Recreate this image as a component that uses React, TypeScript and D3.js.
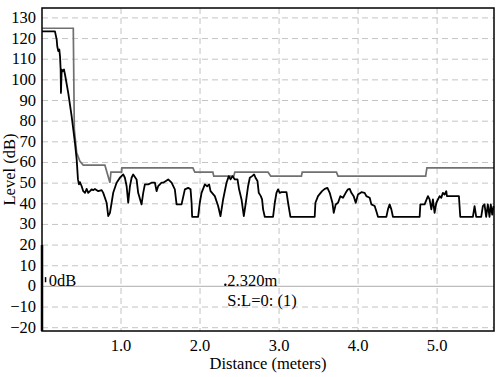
import * as d3 from 'd3'

const WIDTH = 500
const HEIGHT = 377
const MARGIN = { top: 8, right: 6, bottom: 46, left: 42 }

// Measured level trace (distance in meters, level in dB)
const levelDistance = [
  0.0, 0.164, 0.186, 0.193, 0.206, 0.219, 0.228, 0.236, 0.24, 0.249, 0.262, 0.278, 0.291, 0.332,
  0.375, 0.417, 0.439, 0.455, 0.468, 0.48, 0.502, 0.522, 0.544, 0.565, 0.585, 0.607, 0.628, 0.649,
  0.67, 0.712, 0.755, 0.775, 0.818, 0.838, 0.86, 0.881, 0.901, 0.944, 0.986, 1.028, 1.049, 1.071,
  1.091, 1.113, 1.134, 1.154, 1.197, 1.217, 1.26, 1.281, 1.302, 1.344, 1.387, 1.429, 1.45, 1.47,
  1.513, 1.534, 1.597, 1.64, 1.681, 1.703, 1.766, 1.808, 1.85, 1.88, 1.893, 1.9, 1.976, 1.997,
  2.019, 2.061, 2.09, 2.115, 2.133, 2.187, 2.229, 2.259, 2.292, 2.335, 2.364, 2.386, 2.411, 2.44,
  2.474, 2.494, 2.525, 2.554, 2.579, 2.608, 2.63, 2.659, 2.684, 2.702, 2.727, 2.743, 2.769, 2.785,
  2.798, 2.819, 2.924, 2.946, 2.967, 2.987, 3.009, 3.03, 3.094, 3.114, 3.144, 3.451, 3.46, 3.493,
  3.544, 3.578, 3.612, 3.641, 3.675, 3.692, 3.717, 3.746, 3.776, 3.809, 3.843, 3.872, 3.894, 3.915,
  3.944, 3.97, 3.999, 4.042, 4.083, 4.105, 4.147, 4.168, 4.21, 4.231, 4.252, 4.358, 4.378, 4.399,
  4.421, 4.441, 4.779, 4.788, 4.842, 4.884, 4.905, 4.927, 4.947, 4.968, 4.99, 5.032, 5.053, 5.073,
  5.095, 5.116, 5.124, 5.276, 5.293, 5.453, 5.474, 5.495, 5.558, 5.579, 5.6, 5.621, 5.642, 5.663,
  5.679, 5.697, 5.714,
]
const levelDb = [
  123.5, 123.5, 119.5, 116.3, 113.9, 114.7, 111.4, 105, 93.7, 105, 104.2, 105, 102.6, 93.7,
  82.4, 69.5, 61.4, 51.8, 49.4, 50.5, 48.5, 46.1, 45.3, 47.2, 45.3, 46.1, 47, 46.6,
  47.2, 46.1, 46.6, 45.3, 40.5, 34, 35.6, 40.5, 45.3, 50.2, 52.6, 54.2, 52.6, 48.5,
  40.5, 48.5, 52.6, 54.2, 51.8, 45.3, 39.7, 45.3, 49.4, 49.4, 50.2, 50.2, 46.1, 48.5,
  50.2, 50.2, 51.8, 50.2, 47, 39.7, 39.7, 47, 47.7, 47, 40.5, 33.7, 33.7, 40.5,
  45.3, 49.4, 48.5, 49.4, 46.1, 43.7, 38.9, 34, 42.1, 50.2, 53.4, 51.8, 53.4, 51.8,
  51.8, 47, 42.1, 34, 40.5, 48.5, 52.6, 53.4, 54.2, 52.6, 51, 45.3, 43.7, 42.1,
  37.3, 33.7, 33.7, 40.5, 45.3, 47, 45.3, 45.6, 45.6, 40.5, 33.7, 33.7, 40.5, 43.7,
  46.1, 47.2, 47.7, 45.3, 40.5, 35.6, 39.7, 40.5, 43.7, 42.9, 45.3, 47, 47.2, 45.3,
  43.7, 40.5, 44.5, 45.6, 45.3, 43.7, 42.9, 39.7, 38.9, 36.4, 33.7, 33.7, 37.3, 39.7,
  37.3, 33.7, 33.7, 39.7, 39.7, 43.7, 42.1, 37.3, 42.1, 35.6, 40.5, 43.7, 42.9, 45.3,
  44.5, 46.1, 43.7, 43.7, 33.7, 33.7, 38.9, 33.7, 33.7, 38.9, 39.7, 33.7, 39.7, 33.7,
  39.7, 34.7, 38.9,
]

// Threshold trace
const limitDistance = [
  0.0, 0.396, 0.409, 0.439, 0.48, 0.522, 0.796, 0.86, 0.872, 1.008, 1.011, 1.909, 1.934, 2.162,
  2.174, 2.427, 2.44, 2.861, 2.895, 3.283, 3.293, 3.726, 3.746, 4.855, 4.871, 5.72,
]
const limitDb = [
  125, 125, 76, 64.7, 60.6, 58.7, 58.7, 50.2, 55.3, 55.3, 57.4, 57.4, 55.3, 55.3,
  53.4, 53.4, 55.3, 55.3, 53.4, 53.4, 55.3, 55.3, 53.4, 53.4, 57.4, 57.4,
]

const xTicks = [1, 2, 3, 4, 5]
const yTicks = [130, 120, 110, 100, 90, 80, 70, 60, 50, 40, 30, 20, 10, 0, -10, -20]

const cursorDistance = 2.32
const textStyle = { fontFamily: "'Liberation Serif'", fontSize: 16.5 }

export default function App() {
  const x = d3.scaleLinear().domain([0, 5.72]).range([MARGIN.left, WIDTH - MARGIN.right])
  const y = d3.scaleLinear().domain([-21.6, 134.8]).range([HEIGHT - MARGIN.bottom, MARGIN.top])
  const [x0, x1] = x.range()
  const [y0, y1] = y.range()

  const line = d3.line<[number, number]>()
    .x(d => x(d[0]))
    .y(d => y(d[1]))
  const levelPath = line(levelDistance.map((d, i) => [d, levelDb[i]] as [number, number])) || ''
  const limitPath = line(limitDistance.map((d, i) => [d, limitDb[i]] as [number, number])) || ''

  return (
    <svg width={WIDTH} height={HEIGHT} style={{ position: 'absolute', left: 0, top: 0, display: 'block' }}>
      <rect width={WIDTH} height={HEIGHT} fill="#fff" />

      {/* grid */}
      {yTicks.filter(d => d !== 0).map(t => (
        <line key={'h' + t} x1={x0} x2={x1} y1={y(t)} y2={y(t)} stroke="#c4c4c4" strokeDasharray="6,4" />
      ))}
      {xTicks.map(t => (
        <line key={'v' + t} x1={x(t)} x2={x(t)} y1={y1} y2={y0} stroke="#c4c4c4" strokeDasharray="6,4" />
      ))}
      <line x1={x0} x2={x1} y1={y(0)} y2={y(0)} stroke="#bdbdbd" strokeWidth={1.2} />

      <path d={limitPath} fill="none" stroke="#707070" strokeWidth={1.7} />
      <path d={levelPath} fill="none" stroke="#000" strokeWidth={1.8} strokeLinejoin="round" />

      {/* frame */}
      <rect x={x0} y={y1} width={x1 - x0} height={y0 - y1} fill="none" stroke="#000" strokeWidth={1.5} />
      <line x1={x0} x2={x0} y1={y(20)} y2={y0} stroke="#000" strokeWidth={2.5} />

      {/* markers */}
      <line x1={x(0.045)} x2={x(0.045)} y1={y(4.5)} y2={y(2)} stroke="#000" strokeWidth={1.5} />
      <circle cx={x(cursorDistance)} cy={y(0.8)} r={1.2} fill="#000" />

      <text x={x(0.085)} y={y(0)} style={textStyle}>0dB</text>
      <text x={x(cursorDistance) + 2} y={y(0)} style={textStyle}>{cursorDistance.toFixed(3)}m</text>
      <text x={x(cursorDistance) + 2} y={y(-9.5)} style={textStyle}>S:L=0: (1)</text>

      {yTicks.map(t => (
        <text key={'yl' + t} x={36} y={y(t) + 5} textAnchor="end" style={textStyle}>
          {String(t).replace('-', '\u2212')}
        </text>
      ))}
      {xTicks.map(t => (
        <text key={'xl' + t} x={x(t)} y={351} textAnchor="middle" style={textStyle}>
          {t.toFixed(1)}
        </text>
      ))}

      <text x={(x0 + x1) / 2} y={369} textAnchor="middle" style={textStyle}>Distance (meters)</text>
      <text transform={`translate(15, ${(y0 + y1) / 2}) rotate(-90)`} textAnchor="middle" style={textStyle}>
        Level (dB)
      </text>
    </svg>
  )
}
